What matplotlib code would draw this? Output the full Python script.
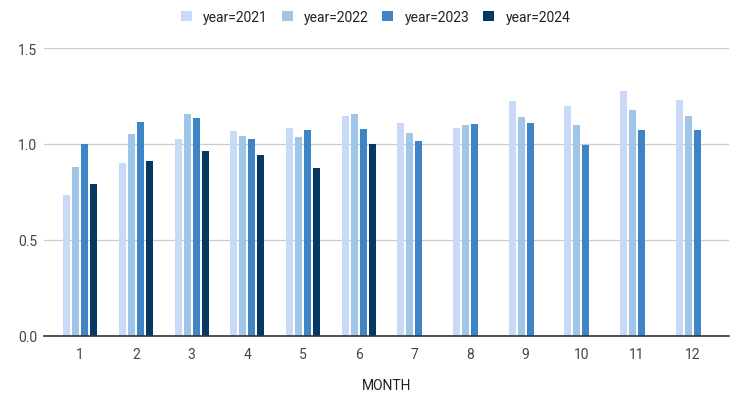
import matplotlib
matplotlib.use("Agg")
import matplotlib.pyplot as plt
import numpy as np

plt.rcParams['font.family'] = ['Roboto', 'DejaVu Sans']

months = [1, 2, 3, 4, 5, 6, 7, 8, 9, 10, 11, 12]
y2021 = [0.736, 0.903, 1.028, 1.068, 1.085, 1.147, 1.109, 1.085, 1.222, 1.199, 1.274, 1.229]
y2022 = [0.880, 1.052, 1.154, 1.040, 1.035, 1.154, 1.057, 1.097, 1.142, 1.097, 1.177, 1.147]
y2023 = [1.000, 1.115, 1.137, 1.028, 1.074, 1.080, 1.017, 1.104, 1.109, 0.995, 1.074, 1.074]
y2024 = [0.792, 0.910, 0.965, 0.941, 0.873, 1.000]
series_labels = ['year=2021', 'year=2022', 'year=2023', 'year=2024']
colors = ['#c9daf8', '#9fc5e8', '#3d85c6', '#073763']

fig = plt.figure(figsize=(7.51, 4.02), dpi=100)
ax = fig.add_axes([44/751, 65/402, 685/751, 288/402])

series = [y2021, y2022, y2023, y2024]
slot = 0.162
width = 0.125
x = np.array(months, dtype=float)
handles = []
for i, (vals, c, lab) in enumerate(zip(series, colors, series_labels)):
    xs = x[:len(vals)] + (i - 1.5) * slot
    h = ax.bar(xs, vals, width=width, color=c, label=lab, zorder=3)
    handles.append(h)

ax.set_xlim(0.35, 12.65)
ax.set_ylim(0, 1.5)
ax.set_yticks([0, 0.5, 1.0, 1.5])
ax.set_yticklabels(['0.0', '0.5', '1.0', '1.5'])
ax.set_xticks(months)
ax.set_xticklabels([str(m) for m in months])
ax.grid(axis='y', color='#cccccc', linewidth=0.9, zorder=0)
for s in ['top', 'right', 'left']:
    ax.spines[s].set_visible(False)
ax.spines['bottom'].set_color('#333333')
ax.spines['bottom'].set_linewidth(1.2)
ax.spines['bottom'].set_zorder(4)
ax.tick_params(axis='both', length=0, labelsize=10, colors='#444444')
ax.tick_params(axis='x', pad=8)
ax.tick_params(axis='y', pad=5)
fig.text(0.5 * (44 + 729) / 751, 1 - 386/402, 'MONTH', fontsize=10, color='#222222',
         ha='center', va='center')

fig.legend(handles=handles, labels=series_labels, loc='center', bbox_to_anchor=(0.5, 1 - 18/402),
           ncol=4, frameon=False, fontsize=10, handlelength=0.8, handleheight=0.8,
           columnspacing=1.0, handletextpad=0.8, labelcolor='#222222')

fig.savefig('out.png', dpi=100, facecolor='white')
